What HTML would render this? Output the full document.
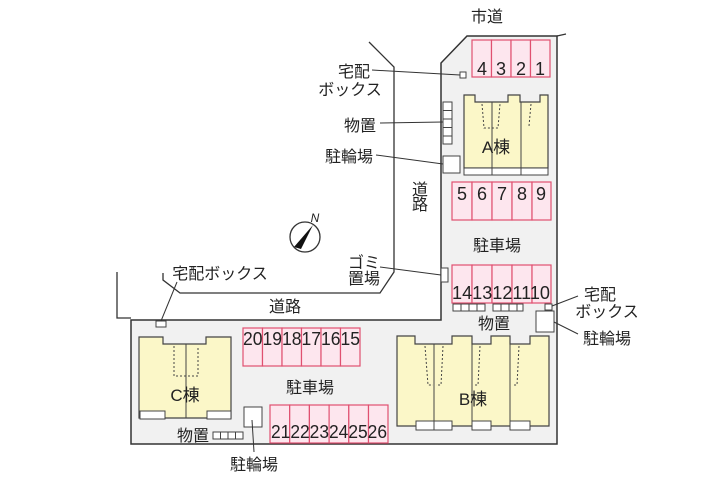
<!DOCTYPE html>
<html><head><meta charset="utf-8"><style>
html,body{margin:0;padding:0;background:#fff;}
svg{display:block}
text{font-family:"Liberation Sans","Noto Sans CJK JP",sans-serif;fill:#222;}
</style></head><body>
<svg width="720" height="480" viewBox="0 0 720 480" xmlns="http://www.w3.org/2000/svg">
<path d="M467,36 L557,36 L557,444 L131,444 L131,320 L441,320 L441,63 Z" fill="#f1f1f1" stroke="#333" stroke-width="1.5"/>
<line x1="557" y1="36" x2="566" y2="34" stroke="#333" stroke-width="1.2"/>
<polyline points="369,42 394,67 394,272 380,293 180,293 163,280 163,273" fill="none" stroke="#333" stroke-width="1.3"/>
<polyline points="117,272 117,318 131,318" fill="none" stroke="#333" stroke-width="1.3"/>
<g fill="#fde6ee" stroke="#e05070" stroke-width="1.2">
<rect x="472" y="40" width="19.5" height="37"/><rect x="491.5" y="40" width="19.5" height="37"/><rect x="511" y="40" width="19.5" height="37"/><rect x="530.5" y="40" width="19.5" height="37"/>
<rect x="452" y="182" width="20" height="38"/><rect x="472" y="182" width="20" height="38"/><rect x="492" y="182" width="20" height="38"/><rect x="512" y="182" width="20" height="38"/><rect x="532" y="182" width="19" height="38"/>
<rect x="452" y="265" width="20" height="38"/><rect x="472" y="265" width="20" height="38"/><rect x="492" y="265" width="20" height="38"/><rect x="512" y="265" width="20" height="38"/><rect x="532" y="265" width="19" height="38"/>
<rect x="243" y="328" width="19.5" height="38"/><rect x="262.5" y="328" width="19.5" height="38"/><rect x="282" y="328" width="19.5" height="38"/><rect x="301.5" y="328" width="19.5" height="38"/><rect x="321" y="328" width="19.5" height="38"/><rect x="340.5" y="328" width="19.5" height="38"/>
<rect x="270" y="405" width="19.7" height="38"/><rect x="289.7" y="405" width="19.7" height="38"/><rect x="309.4" y="405" width="19.7" height="38"/><rect x="329.1" y="405" width="19.7" height="38"/><rect x="348.8" y="405" width="19.7" height="38"/><rect x="368.5" y="405" width="19.5" height="38"/>
</g>
<g font-size="18" text-anchor="middle">
<text x="482" y="75">4</text><text x="501" y="75">3</text><text x="521" y="75">2</text><text x="540" y="75">1</text>
<text x="462" y="200">5</text><text x="482" y="200">6</text><text x="502" y="200">7</text><text x="522" y="200">8</text><text x="541" y="200">9</text>
</g>
<g font-size="18">
<text x="452" y="299" textLength="98" lengthAdjust="spacingAndGlyphs">1413121110</text>
<text x="243" y="345" textLength="117" lengthAdjust="spacingAndGlyphs">201918171615</text>
<text x="271" y="438" textLength="116" lengthAdjust="spacingAndGlyphs">212223242526</text>
</g>
<path d="M464,95 L475,95 L475,102 L508,102 L508,95 L520,95 L520,102 L540,102 L540,95 L548,95 L548,168 L464,168 Z" fill="#fbf7c8" stroke="#444" stroke-width="1.2"/>
<rect x="464" y="168" width="84" height="7" fill="#fff" stroke="#444"/>
<line x1="492" y1="102" x2="492" y2="175" stroke="#444"/><line x1="521" y1="102" x2="521" y2="175" stroke="#444"/>
<path d="M482,104 L484,128 L498,128 L500,104 M531,104 L529,126" fill="none" stroke="#444" stroke-dasharray="2,2"/>
<text x="496" y="153" font-size="17" text-anchor="middle">A棟</text>
<g fill="#fff" stroke="#444">
<rect x="460" y="72" width="6" height="6"/>
<rect x="443" y="102" width="9" height="8.5"/><rect x="443" y="110.5" width="9" height="8.5"/><rect x="443" y="119" width="9" height="8.5"/><rect x="443" y="127.5" width="9" height="8.5"/><rect x="443" y="136" width="9" height="8"/>
<rect x="443" y="156" width="17" height="17"/>
<rect x="441" y="268" width="7" height="14"/>
<rect x="453" y="304" width="8" height="7"/><rect x="461" y="304" width="8" height="7"/><rect x="469" y="304" width="8" height="7"/><rect x="477" y="304" width="8" height="7"/>
<rect x="493" y="304" width="8" height="7"/><rect x="501" y="304" width="8" height="7"/><rect x="509" y="304" width="8" height="7"/><rect x="517" y="304" width="6" height="7"/>
<rect x="545" y="304" width="7" height="6"/>
<rect x="536" y="311" width="18" height="21"/>
<rect x="244" y="407" width="18" height="20"/>
<rect x="213" y="432" width="7.5" height="7"/><rect x="220.5" y="432" width="7.5" height="7"/><rect x="228" y="432" width="7.5" height="7"/><rect x="235.5" y="432" width="7.5" height="7"/>
<rect x="156" y="321" width="10" height="6"/>
</g>
<path d="M397,336 L415,336 L415,344 L452,344 L452,336 L472,336 L472,344 L491,344 L491,336 L510,336 L510,344 L530,344 L530,336 L549,336 L549,426 L397,426 Z" fill="#fbf7c8" stroke="#444" stroke-width="1.2"/>
<line x1="434" y1="344" x2="434" y2="426" stroke="#444"/><line x1="472" y1="344" x2="472" y2="426" stroke="#444"/><line x1="510" y1="344" x2="510" y2="426" stroke="#444"/>
<g fill="#fff" stroke="#444"><rect x="416" y="421" width="18" height="9"/><rect x="434" y="421" width="18" height="9"/><rect x="472" y="421" width="19" height="9"/><rect x="510" y="421" width="20" height="9"/></g>
<path d="M425,346 L428,385 L433,385 M443,346 L441,385 L436,385 M480,346 L478,385 L475,385 M519,346 L517,385 L514,385" fill="none" stroke="#444" stroke-dasharray="2,2"/>
<text x="473" y="405" font-size="17" text-anchor="middle">B棟</text>
<path d="M139,337 L163,337 L163,344 L206,344 L206,337 L231,337 L231,418 L139,418 Z" fill="#fbf7c8" stroke="#444" stroke-width="1.2"/>
<line x1="186" y1="344" x2="186" y2="418" stroke="#444"/>
<g fill="#fff" stroke="#444"><rect x="140" y="411" width="25" height="8"/><rect x="207" y="411" width="24" height="8"/></g>
<path d="M174,346 L174,376 L198,376 L198,346" fill="none" stroke="#444" stroke-dasharray="2,2"/>
<text x="185" y="401" font-size="17" text-anchor="middle">C棟</text>
<circle cx="305" cy="237" r="15" fill="#fff" stroke="#333" stroke-width="1.3"/>
<path d="M313,225 L294,247 L301,249 Z" fill="#111"/>
<text x="315" y="222" font-size="12" font-style="italic" text-anchor="middle">N</text>
<g stroke="#333" stroke-width="1" fill="none">
<line x1="372" y1="70" x2="460" y2="75"/>
<line x1="380" y1="123" x2="443" y2="122"/>
<line x1="376" y1="155" x2="443" y2="164"/>
<line x1="380" y1="267" x2="441" y2="275"/>
<line x1="177" y1="282" x2="161" y2="321"/>
<line x1="552" y1="306" x2="578" y2="296"/>
<line x1="554" y1="322" x2="578" y2="334"/>
<line x1="252" y1="420" x2="254" y2="452"/>
</g>
<g font-size="16">
<text x="487" y="22" text-anchor="middle">市道</text>
<text x="354" y="77" text-anchor="middle">宅配</text>
<text x="350" y="95" text-anchor="middle">ボックス</text>
<text x="360" y="131" text-anchor="middle">物置</text>
<text x="349" y="162" text-anchor="middle">駐輪場</text>
<text x="420" y="195" text-anchor="middle">道</text>
<text x="420" y="210" text-anchor="middle">路</text>
<text x="497" y="251" text-anchor="middle">駐車場</text>
<text x="364" y="268" text-anchor="middle">ゴミ</text>
<text x="364" y="284" text-anchor="middle">置場</text>
<text x="220" y="279" text-anchor="middle">宅配ボックス</text>
<text x="285" y="312" text-anchor="middle">道路</text>
<text x="494" y="329" text-anchor="middle">物置</text>
<text x="600" y="300" text-anchor="middle">宅配</text>
<text x="607" y="317" text-anchor="middle">ボックス</text>
<text x="607" y="344" text-anchor="middle">駐輪場</text>
<text x="310" y="393" text-anchor="middle">駐車場</text>
<text x="193" y="441" text-anchor="middle">物置</text>
<text x="254" y="470" text-anchor="middle">駐輪場</text>
</g>
</svg>
</body></html>
